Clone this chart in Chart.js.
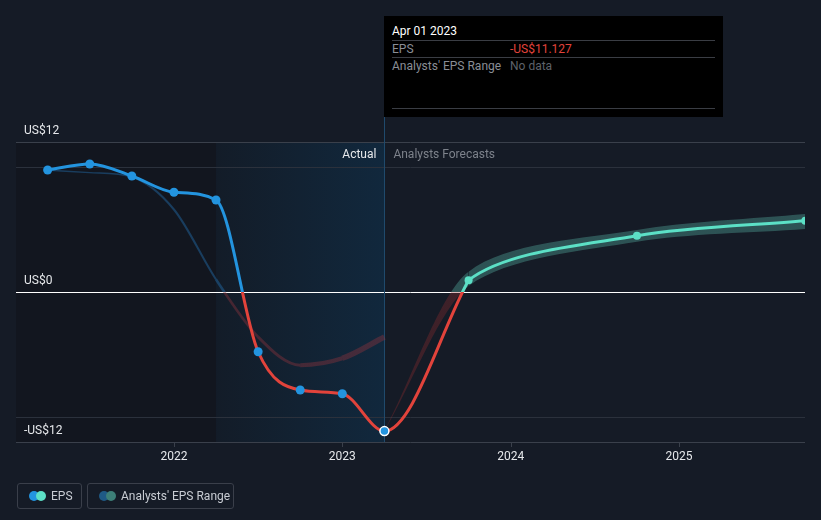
<!DOCTYPE html>
<html>
<head>
<meta charset="utf-8">
<script src="https://cdn.jsdelivr.net/npm/chart.js@4/dist/chart.umd.min.js"></script>
<style>
  html, body { margin: 0; padding: 0; background: #151b26; }
  body { width: 821px; height: 520px; position: relative; overflow: hidden; font-family: Roboto, "Noto Sans", sans-serif; }
  #wrap { position: absolute; left: 0; top: 0; width: 821px; height: 520px; }
  .tip { position: absolute; left: 384px; top: 16px; width: 339px; height: 101px; background: #000; font-size: 12px; }
  .tip .row { position: absolute; left: 8px; right: 8px; }
  .tip .sep { position: absolute; left: 8px; right: 8px; height: 1px; background: #3a3d44; }
  .tip .lab { color: #8a8e96; position: absolute; left: 0; }
  .tip .val { position: absolute; left: 118px; }
  .legend { position: absolute; top: 483px; height: 26px; border: 1px solid #3a3f4a; border-radius: 3px; color: #c8ccd3; font-size: 12px; line-height: 24px; box-sizing: border-box; }
  .dot { position: absolute; top: 7px; width: 10px; height: 10px; border-radius: 50%; }
</style>
</head>
<body>
<div id="wrap"><canvas id="epsChart" width="821" height="520"></canvas></div>

<div class="tip">
  <div class="row" style="top:8px;color:#fff;">Apr 01 2023</div>
  <div class="sep" style="top:24px;"></div>
  <div class="row" style="top:26px;"><span class="lab">EPS</span><span class="val" style="color:#e2433b;">-US$11.127</span></div>
  <div class="sep" style="top:41px;"></div>
  <div class="row" style="top:43px;"><span class="lab">Analysts' EPS Range</span><span class="val" style="color:#5e626a;">No data</span></div>
  <div class="sep" style="top:92px;"></div>
</div>

<div class="legend" style="left:17px;width:65px;">
  <span class="dot" style="left:11px;background:#2394df;"></span>
  <span class="dot" style="left:18px;background:#5ce0c6;"></span>
  <span style="position:absolute;left:33px;">EPS</span>
</div>
<div class="legend" style="left:87px;width:147px;">
  <span class="dot" style="left:11px;background:#1f5a86;"></span>
  <span class="dot" style="left:18px;background:#3d7f78;"></span>
  <span style="position:absolute;left:33px;">Analysts' EPS Range</span>
</div>

<script>
// data (x = decimal year, y = US$)
const actualYears = [2021.25, 2021.5, 2021.75, 2022.0, 2022.25, 2022.5, 2022.75, 2023.0, 2023.25];
const actualEps = [9.76, 10.24, 9.28, 7.98, 7.36, -4.78, -7.84, -8.14, -11.127];
const forecastYears = [2023.25, 2023.75, 2024.75, 2025.75];
const forecastEps = [-11.127, 0.94, 4.5, 5.7];
const rangeLow = [-11.127, 0.48, 4.02, 5.05];
const rangeHigh = [-11.127, 1.62, 4.96, 6.24];
const pastEstYears = [2021.25, 2021.5, 2021.75, 2022.0, 2022.25, 2022.5, 2022.75, 2023.0, 2023.25];
const pastEst = [9.76, 9.55, 9.2, 6.6, 1.0, -3.6, -5.85, -5.3, -3.6];
const yearTicks = [2022, 2023, 2024, 2025];
const yLabels = ['US$12', 'US$0', '-US$12'];
const actualStart = 2022.25;
const today = 2023.25;

function pts(xs, ys) {
    return xs.map((x, i) => ({x: x, y: ys[i]}));
}

// colour switches at the zero line
function signGradient(chart, pos, neg) {
    const {ctx, chartArea, scales} = chart;
    if (!chartArea) return pos;
    const y0 = scales.y.getPixelForValue(0);
    const f = Math.min(1, Math.max(0, (y0 - chartArea.top) / (chartArea.bottom - chartArea.top)));
    const g = ctx.createLinearGradient(0, chartArea.top, 0, chartArea.bottom);
    g.addColorStop(0, pos);
    g.addColorStop(f, pos);
    g.addColorStop(f, neg);
    g.addColorStop(1, neg);
    return g;
}

const nA = actualYears.length;
// actual series gets the first forecast point as a hidden neighbour so the curve flattens at the last actual
const actualLine = pts(actualYears, actualEps).concat([{x: forecastYears[1], y: forecastEps[1]}]);
// forecast drawn in two parts: the climb out of the low, then the flatter outlook
// (each carries one hidden neighbour so the curve shape around the split comes out right)
const climbLine = [{x: actualYears[nA - 2], y: actualEps[nA - 2]}].concat(pts(forecastYears.slice(0, 2), forecastEps.slice(0, 2)));
const outlookLine = pts(forecastYears, forecastEps);
const climbHigh = pts(forecastYears.slice(0, 3), rangeHigh.slice(0, 3));
const climbLow = pts(forecastYears.slice(0, 3), rangeLow.slice(0, 3));
const outlookHigh = pts(forecastYears, rangeHigh);
const outlookLow = pts(forecastYears, rangeLow);
// past estimate line widens towards today
const pastWidths = [1.5, 1.5, 2, 2, 2.5, 3, 4, 5.5];

const backdrop = {
    id: 'backdrop',
    beforeDatasetsDraw(chart) {
        const {ctx, chartArea: a, scales: {x, y}} = chart;
        ctx.save();
        const xs = x.getPixelForValue(actualStart);
        const xt = x.getPixelForValue(today);
        ctx.fillStyle = '#12161f';
        ctx.fillRect(a.left, a.top, xs - a.left, a.bottom - a.top);
        const g = ctx.createLinearGradient(xs, 0, xt, 0);
        g.addColorStop(0, '#131c28');
        g.addColorStop(1, '#11283d');
        ctx.fillStyle = g;
        ctx.fillRect(xs, a.top, xt - xs, a.bottom - a.top);

        // grid lines
        ctx.lineWidth = 1;
        ctx.strokeStyle = '#2b313c';
        [10, -10].forEach(v => {
            const py = Math.round(y.getPixelForValue(v)) + 0.5;
            ctx.beginPath(); ctx.moveTo(a.left, py); ctx.lineTo(a.right, py); ctx.stroke();
        });
        ctx.strokeStyle = '#3a404b';
        [a.top, a.bottom].forEach(py => {
            py = Math.round(py) + 0.5;
            ctx.beginPath(); ctx.moveTo(a.left, py); ctx.lineTo(a.right, py); ctx.stroke();
        });
        yearTicks.forEach(t => {
            const px = Math.round(x.getPixelForValue(t)) + 0.5;
            ctx.beginPath(); ctx.moveTo(px, a.bottom); ctx.lineTo(px, a.bottom + 5); ctx.stroke();
        });
        // zero line
        ctx.strokeStyle = '#ffffff';
        const z = Math.round(y.getPixelForValue(0)) + 0.5;
        ctx.beginPath(); ctx.moveTo(a.left, z); ctx.lineTo(a.right, z); ctx.stroke();

        // hover line
        ctx.strokeStyle = '#1f4a6c';
        ctx.beginPath(); ctx.moveTo(Math.round(xt) + 0.5, 117); ctx.lineTo(Math.round(xt) + 0.5, a.bottom); ctx.stroke();
        ctx.restore();
    },
    afterDraw(chart) {
        const {ctx, chartArea: a, scales: {x, y}} = chart;
        ctx.save();
        ctx.font = '12px Roboto, sans-serif';
        ctx.textBaseline = 'middle';
        ctx.fillStyle = '#e6e8eb';
        const linePos = [a.top, y.getPixelForValue(0), a.bottom];
        yLabels.forEach((lab, i) => {
            ctx.fillText(lab, 24, linePos[i] - 11);
        });
        ctx.textAlign = 'center';
        yearTicks.forEach(t => {
            ctx.fillText(String(t), x.getPixelForValue(t), a.bottom + 15);
        });
        const xt = x.getPixelForValue(today);
        ctx.textAlign = 'right';
        ctx.fillStyle = '#e6e8eb';
        ctx.fillText('Actual', xt - 8, a.top + 13);
        ctx.textAlign = 'left';
        ctx.fillStyle = '#7d828b';
        ctx.fillText('Analysts Forecasts', xt + 9, a.top + 13);
        ctx.restore();
    }
};

const clear = 'rgba(0,0,0,0)';
const bandFill = c => signGradient(c.chart, 'rgba(78,160,148,0.42)', 'rgba(150,45,48,0.32)');

const ctx = document.getElementById('epsChart').getContext('2d');
const epsChart = new Chart(ctx, {
    type: 'line',
    data: {
        datasets: [
            {
                label: 'range climb high',
                data: climbHigh,
                borderWidth: 0,
                pointRadius: 0,
                fill: '+1',
                cubicInterpolationMode: 'monotone',
                backgroundColor: bandFill,
                segment: { backgroundColor: s => s.p0DataIndex >= 1 ? clear : undefined },
                order: 5
            },
            {
                label: 'range climb low',
                data: climbLow,
                borderWidth: 0,
                pointRadius: 0,
                fill: false,
                cubicInterpolationMode: 'monotone',
                order: 5
            },
            {
                label: 'range high',
                data: outlookHigh,
                borderWidth: 0,
                pointRadius: 0,
                fill: '+1',
                tension: 0.3,
                backgroundColor: bandFill,
                segment: { backgroundColor: s => s.p0DataIndex === 0 ? clear : undefined },
                order: 5
            },
            {
                label: 'range low',
                data: outlookLow,
                borderWidth: 0,
                pointRadius: 0,
                fill: false,
                tension: 0.3,
                order: 5
            },
            {
                label: 'past estimate',
                data: pts(pastEstYears, pastEst),
                borderWidth: 2.5,
                pointRadius: 0,
                cubicInterpolationMode: 'monotone',
                borderColor: c => signGradient(c.chart, 'rgba(35,120,190,0.4)', 'rgba(140,50,60,0.42)'),
                segment: { borderWidth: s => pastWidths[s.p0DataIndex] },
                order: 4
            },
            {
                label: 'EPS',
                data: actualLine,
                borderWidth: 3,
                cubicInterpolationMode: 'monotone',
                borderColor: c => signGradient(c.chart, '#2394df', '#e2433b'),
                segment: { borderColor: s => s.p1DataIndex === nA ? clear : undefined },
                pointBackgroundColor: '#2394df',
                pointBorderColor: actualLine.map((_, i) => i === nA - 1 ? '#ffffff' : '#2394df'),
                pointBorderWidth: actualLine.map((_, i) => i === nA - 1 ? 1.5 : 0),
                pointRadius: actualLine.map((_, i) => i === nA ? 0 : 4.5),
                order: 1
            },
            {
                label: 'EPS forecast climb',
                data: climbLine,
                borderWidth: 3,
                cubicInterpolationMode: 'monotone',
                borderColor: c => signGradient(c.chart, '#5ce0c6', '#e2433b'),
                segment: { borderColor: s => s.p0DataIndex === 0 ? clear : undefined },
                pointRadius: 0,
                order: 2
            },
            {
                label: 'EPS forecast',
                data: outlookLine,
                borderWidth: 3,
                tension: 0.3,
                borderColor: '#5ce0c6',
                segment: { borderColor: s => s.p0DataIndex === 0 ? clear : undefined },
                pointBackgroundColor: '#5ce0c6',
                pointBorderWidth: 0,
                pointRadius: outlookLine.map((_, i) => i === 0 ? 0 : 4),
                order: 2
            }
        ]
    },
    options: {
        responsive: false,
        animation: false,
        events: [],
        layout: { padding: { left: 16, right: 16, top: 142, bottom: 78 } },
        scales: {
            x: { type: 'linear', display: false, min: 2021.062, max: 2025.748 },
            y: { type: 'linear', display: false, min: -12, max: 12 }
        },
        plugins: {
            legend: { display: false },
            tooltip: { enabled: false }
        }
    },
    plugins: [backdrop]
});
</script>
</body>
</html>
